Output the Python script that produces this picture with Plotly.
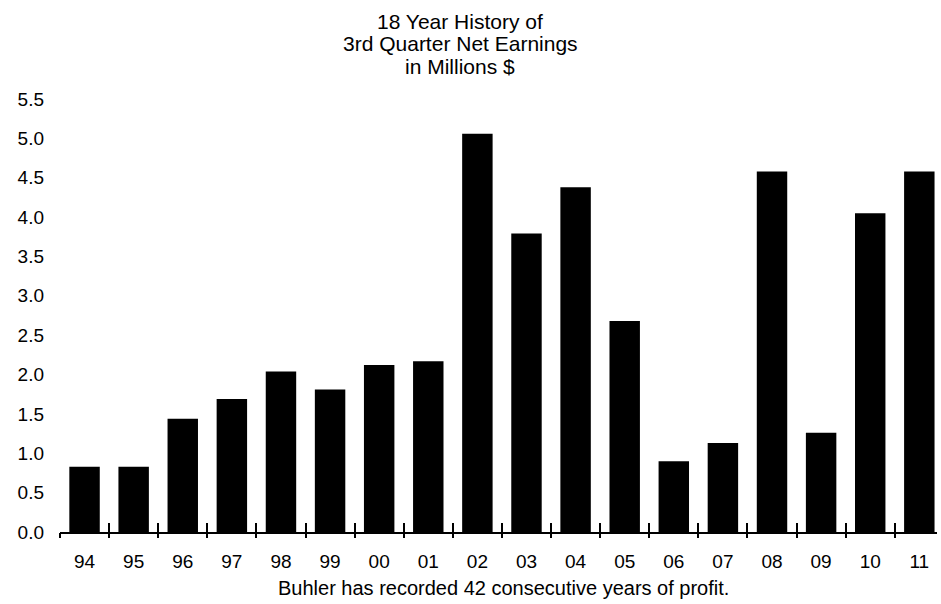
import plotly.graph_objects as go

years = ["94", "95", "96", "97", "98", "99", "00", "01", "02",
         "03", "04", "05", "06", "07", "08", "09", "10", "11"]
earnings = [0.83, 0.83, 1.44, 1.69, 2.04, 1.81, 2.12, 2.17, 5.06,
            3.79, 4.38, 2.68, 0.90, 1.13, 4.58, 1.26, 4.05, 4.58]
y_ticks = [0.0, 0.5, 1.0, 1.5, 2.0, 2.5, 3.0, 3.5, 4.0, 4.5, 5.0, 5.5]

title_lines = ["18 Year History of", "3rd Quarter Net Earnings", "in Millions $"]
footnote = "Buhler has recorded 42 consecutive years of profit."

FONT = "Arial, Liberation Sans, sans-serif"
x_range = [-0.5, 17.36]

fig = go.Figure()
fig.add_trace(go.Bar(
    x=years, y=earnings,
    marker=dict(color="black", line=dict(width=0)),
    hoverinfo="x+y",
))
# empty traces so the two overlay axes that carry the category separators get drawn
for ax in ("x2", "x3"):
    fig.add_trace(go.Scatter(x=[], y=[], xaxis=ax, yaxis="y",
                             showlegend=False, hoverinfo="skip"))

# three centred title lines, evenly spaced above the plot
title_annotations = [
    dict(
        text=line, xref="paper", yref="paper",
        x=(460 - 60) / 877, y=(532 - yc) / 433,
        xanchor="center", yanchor="middle", showarrow=False,
        font=dict(family=FONT, size=21, color="black"),
    )
    for line, yc in zip(title_lines, [21, 44, 67])
]

separator_axis = dict(
    overlaying="x", anchor="y", side="bottom",
    range=x_range,
    tickmode="linear", tick0=-0.5, dtick=1,
    tickwidth=1.5, tickcolor="black",
    showticklabels=False, showline=False,
    showgrid=False, zeroline=False, fixedrange=True,
)

fig.update_layout(
    width=941, height=604,
    margin=dict(l=60, r=4, t=99, b=72),
    paper_bgcolor="white", plot_bgcolor="white",
    bargap=0.38,
    showlegend=False,
    font=dict(family=FONT, color="black"),
    xaxis=dict(
        type="category",
        range=x_range,
        showline=True, linecolor="black", linewidth=1.5,
        ticks="",
        tickfont=dict(family=FONT, size=19, color="black"),
        ticklabelstandoff=11,
        showgrid=False, zeroline=False, fixedrange=True,
    ),
    xaxis2=dict(separator_axis, ticks="inside", ticklen=9),
    xaxis3=dict(separator_axis, ticks="outside", ticklen=5),
    yaxis=dict(
        range=[0, 5.5],
        tickmode="array", tickvals=y_ticks,
        ticktext=[f"{v:.1f}" for v in y_ticks],
        tickfont=dict(family=FONT, size=19, color="black"),
        ticks="", showline=False, showgrid=False, zeroline=False,
        ticklabelstandoff=15, fixedrange=True,
    ),
    annotations=title_annotations + [dict(
        text=footnote,
        xref="paper", yref="paper",
        x=(503 - 60) / 877, y=(532 - 588) / 433,
        xanchor="center", yanchor="middle",
        showarrow=False,
        font=dict(family=FONT, size=20, color="black"),
    )],
)

fig.write_html("out.html", config={"displayModeBar": False})
